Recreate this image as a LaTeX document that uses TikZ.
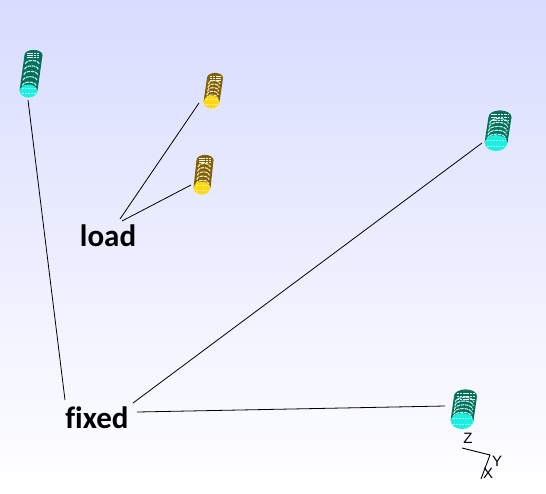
\documentclass[tikz,border=0pt]{standalone}
\usepackage{fontspec}
\setmainfont[Ligatures=NoCommon]{Carlito}
\setsansfont{Liberation Sans}
\usetikzlibrary{calc}
\definecolor{tealdark}{HTML}{07705A}
\definecolor{teallight}{HTML}{1FD8C0}
\definecolor{capcyan}{HTML}{18F0E0}
\definecolor{golddark}{HTML}{806008}
\definecolor{goldlight}{HTML}{E8B818}
\definecolor{capyellow}{HTML}{FFD810}
\tikzset{
  label text/.style={font=\bfseries\fontsize{31}{33}\selectfont,text=black,inner sep=0pt},
  axis text/.style={font=\sffamily\fontsize{15}{15}\selectfont,text=black,inner sep=0pt},
  wire/.style={draw=black,line width=0.8pt},
  axisline/.style={draw=black,line width=0.9pt}
}
% #1 name, #2 bottom, #3 top, #4 rx, #5 ry, #6 dark, #7 mid, #8 cap
\newcommand{\coilspring}[8]{%
  \coordinate (#1) at #2;
  \coordinate (#1top) at #3;
  \fill[#6] ($(#1)+(-#4,0)$) -- ($(#1top)+(-#4,0)$)
    arc[start angle=180,end angle=0,x radius=#4,y radius=#5]
    -- ($(#1)+(#4,0)$)
    arc[start angle=0,end angle=-180,x radius=#4,y radius=#5] -- cycle;
  \fill[#6] (#1top) ellipse[x radius=#4,y radius=#5+0.6];
  \foreach \t in {0.15,0.3,...,0.8}{
    \draw[white!70!#7,line width=1.1pt,dash pattern=on 3.5pt off 0.8pt]
      ($(#1)!\t!(#1top)+(-#4+2.2,0)$)
      arc[start angle=180,end angle=360,x radius=#4-2.2,y radius=#5-1];
  }
  \foreach \d in {-0.45,0.1,0.6}{
    \draw[white!90!#7,line width=0.9pt,dash pattern=on 2.5pt off 0.8pt]
      ($(#1top)+(-#4+2.5,\d*#5)$) -- ($(#1top)+(#4-2.5,\d*#5)$);
  }
  \fill[#8] (#1) ellipse[x radius=#4-0.3,y radius=#5+2];
  \foreach \d in {-0.5,0.5}{
    \draw[white!65!#8,line width=0.7pt,dash pattern=on 2pt off 1pt]
      ($(#1)+(-#4+2,\d*#5)$) -- ($(#1)+(#4-2,\d*#5)$);
  }
}
\begin{document}
\begin{tikzpicture}[x=1pt,y=-1pt]
\useasboundingbox (0,0) rectangle (546,493);
\shade[top color={rgb,255:red,216;green,220;blue,254},bottom color=white] (0,0) rectangle (546,493);
\coilspring{sa}{(28.5,91)}{(33.5,55)}{9}{4.5}{tealdark}{teallight}{capcyan}
\coilspring{sb}{(211.5,102)}{(215,78)}{8}{4.5}{golddark}{goldlight}{capyellow}
\coilspring{sc}{(202,188)}{(205,160)}{8.5}{4.5}{golddark}{goldlight}{capyellow}
\coilspring{sd}{(496,143)}{(500,117)}{11.5}{6}{tealdark}{teallight}{capcyan}
\coilspring{se}{(462,421)}{(465.5,396)}{11.5}{6}{tealdark}{teallight}{capcyan}
\node[label text] (load) at (108,236) {load};
\node[label text] (fixed) at (97,418) {fixed};
\coordinate (ea) at (28,100);
\coordinate (eb) at (199,103);
\coordinate (ec) at (191,185);
\coordinate (ed) at (482,143);
\coordinate (ee) at (445,406);
\coordinate (la) at (120,219);
\coordinate (lb) at (122,221);
\coordinate (fa) at (65,400);
\coordinate (fb) at (133,403);
\coordinate (fc) at (137,412);
\draw[wire] (la) -- (eb);
\draw[wire] (lb) -- (ec);
\draw[wire] (fa) -- (ea);
\draw[wire] (fb) -- (ed);
\draw[wire] (fc) -- (ee);
\coordinate (oz) at (462,448);
\coordinate (oc) at (490,455);
\coordinate (oy) at (481,479);
\draw[axisline] (oz) -- (oc) -- (oy);
\node[axis text] (zl) at (468,438) {Z};
\node[axis text] (yl) at (497,461) {Y};
\node[axis text] (xl) at (488,473) {X};
\end{tikzpicture}
\end{document}
